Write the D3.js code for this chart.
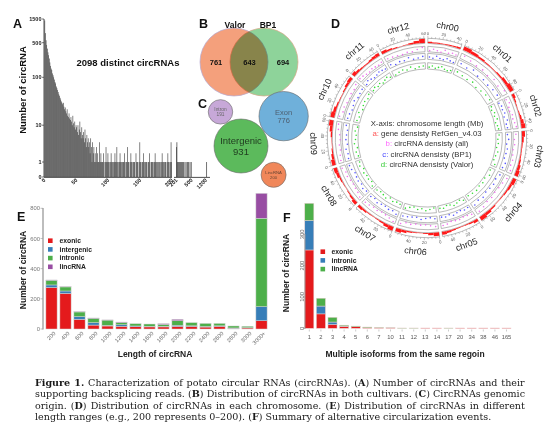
<!DOCTYPE html>
<html>
<head>
<meta charset="utf-8">
<script src="https://cdn.jsdelivr.net/npm/d3@7"></script>
<style>
  body { margin: 0; background: #fff; }
  svg { display: block; font-family: "Liberation Sans", Arial, sans-serif; }
</style>
</head>
<body>
<svg id="fig" width="554" height="440"></svg>
<script>
// ---------- data ----------
// A: number of circRNAs per count of supporting backsplicing reads (1..200)
const readCounts = [
  1400, 780, 560, 450, 380, 320, 280, 240, 200, 170, 150, 140, 120, 110, 100, 90, 80, 75, 65, 60,
  55, 50, 45, 42, 38, 35, 32, 30, 28, 30,
  25, 22, 24, 20, 18, 22, 16, 15, 18, 14,
  13, 15, 12, 10, 16, 11, 9, 12, 8, 10,
  9, 7, 10, 6, 8, 12, 7, 5, 9, 6,
  5, 7, 4, 8, 5, 3, 6, 4, 5, 3,
  4, 2, 5, 3, 1, 4, 2, 3, 1, 2,
  1, 3, 1, 2, 1, 1, 4, 1, 2, 1,
  1, 1, 2, 1, 0, 1, 3, 1, 1, 2,
  1, 1, 0, 1, 2, 1, 1, 0, 1, 1,
  2, 1, 1, 3, 1, 0, 1, 1, 2, 1,
  1, 0, 1, 1, 1, 2, 1, 0, 1, 1,
  3, 1, 1, 0, 1, 2, 1, 1, 0, 1,
  1, 1, 0, 2, 1, 1, 1, 0, 1, 4,
  1, 1, 0, 1, 1, 2, 1, 0, 1, 1,
  1, 0, 1, 1, 2, 1, 0, 1, 1, 1,
  0, 1, 1, 2, 1, 1, 0, 1, 1, 0,
  1, 1, 0, 1, 2, 1, 1, 0, 1, 1,
  1, 0, 1, 2, 1, 1, 0, 1, 4, 1
];
const highReads  = [203, 206, 215, 228, 240, 255, 270, 290, 310, 335, 360, 390, 420, 455, 490, 1250];
const highCounts = [3, 4, 1, 1, 1, 1, 1, 1, 1, 1, 1, 1, 1, 1, 1, 1];
const readTicksY = [0, 1, 10, 100, 500, 1500];
const readTicksX = [0, 50, 100, 150, 200];
const readTicksHigh = [201, 500, 1200];

// B: Venn
const vennSets = ['Valor', 'BP1'];
const vennCounts = [761, 643, 694];

// C: genomic origin
const originLabels = ['Intron', 'Exon', 'Intergenic', 'LincRNA'];
const originCounts = [191, 776, 931, 200];

// D: circos
const chrNames = ['chr00','chr01','chr02','chr03','chr04','chr05','chr06','chr07','chr08','chr09','chr10','chr11','chr12'];
const chrLengths = [45.8, 88.7, 48.6, 62.3, 72.2, 52.1, 59.5, 56.8, 56.6, 61.5, 59.8, 45.5, 61.2];
const geneDensity = [
  [0.3,0.2,0.2,0.15,0.2,0.2,0.25,0.35],
  [0.9,0.6,0.4,0.2,0.15,0.3,0.6,0.9],
  [0.6,0.3,0.15,0.1,0.2,0.4,0.7,0.9],
  [0.7,0.4,0.2,0.15,0.2,0.35,0.6,0.8],
  [0.8,0.5,0.3,0.15,0.1,0.3,0.6,0.9],
  [0.6,0.3,0.2,0.1,0.15,0.3,0.5,0.7],
  [0.8,0.5,0.2,0.1,0.15,0.25,0.55,0.8],
  [0.9,0.6,0.3,0.15,0.1,0.2,0.4,0.6],
  [0.7,0.4,0.2,0.1,0.15,0.3,0.6,0.8],
  [0.8,0.5,0.25,0.1,0.1,0.3,0.6,0.9],
  [0.9,0.6,0.3,0.15,0.1,0.25,0.5,0.7],
  [0.8,0.5,0.3,0.2,0.2,0.4,0.6,0.7],
  [0.6,0.35,0.2,0.1,0.15,0.3,0.6,0.95]
];
const circAll = [
  [0.2,0.5,0.3,0.1,0.6,0.2,0.4,0.3],
  [0.7,0.4,0.2,0.3,0.1,0.5,0.3,0.8],
  [0.3,0.6,0.2,0.1,0.4,0.3,0.5,0.7],
  [0.5,0.2,0.3,0.1,0.2,0.4,0.3,0.6],
  [0.6,0.3,0.2,0.1,0.3,0.2,0.5,0.7],
  [0.4,0.2,0.1,0.3,0.2,0.1,0.4,0.5],
  [0.5,0.3,0.1,0.2,0.1,0.3,0.2,0.6],
  [0.7,0.4,0.2,0.1,0.3,0.2,0.4,0.5],
  [0.6,0.3,0.2,0.1,0.2,0.4,0.3,0.7],
  [0.5,0.4,0.2,0.3,0.1,0.2,0.5,0.6],
  [0.7,0.3,0.4,0.2,0.1,0.3,0.2,0.5],
  [0.6,0.5,0.3,0.2,0.4,0.3,0.2,0.4],
  [0.4,0.3,0.2,0.1,0.3,0.2,0.5,0.8]
];
const circBP1 = [
  [0.4,0.2,0.6,0.3,0.2,0.5,0.3,0.2],
  [0.5,0.3,0.6,0.2,0.4,0.3,0.5,0.6],
  [0.2,0.4,0.3,0.5,0.2,0.6,0.3,0.4],
  [0.3,0.5,0.2,0.4,0.3,0.2,0.6,0.4],
  [0.5,0.2,0.4,0.3,0.2,0.5,0.3,0.6],
  [0.3,0.4,0.2,0.3,0.5,0.2,0.4,0.3],
  [0.4,0.2,0.3,0.5,0.2,0.3,0.4,0.5],
  [0.6,0.3,0.4,0.2,0.3,0.5,0.2,0.4],
  [0.3,0.5,0.2,0.4,0.3,0.2,0.5,0.6],
  [0.4,0.3,0.5,0.2,0.4,0.3,0.2,0.5],
  [0.5,0.4,0.2,0.3,0.5,0.2,0.3,0.4],
  [0.3,0.6,0.4,0.2,0.3,0.5,0.4,0.3],
  [0.5,0.2,0.4,0.3,0.6,0.2,0.3,0.5]
];
const circValor = [
  [0.3,0.5,0.2,0.4,0.6,0.3,0.2,0.4],
  [0.6,0.4,0.3,0.5,0.2,0.4,0.6,0.7],
  [0.4,0.2,0.5,0.3,0.6,0.2,0.4,0.5],
  [0.5,0.3,0.4,0.2,0.5,0.3,0.2,0.6],
  [0.3,0.6,0.2,0.4,0.3,0.5,0.4,0.3],
  [0.5,0.2,0.4,0.6,0.3,0.2,0.5,0.4],
  [0.2,0.4,0.6,0.3,0.5,0.2,0.4,0.7],
  [0.4,0.3,0.5,0.2,0.6,0.4,0.3,0.5],
  [0.6,0.2,0.4,0.3,0.5,0.2,0.6,0.4],
  [0.3,0.5,0.2,0.6,0.4,0.3,0.5,0.2],
  [0.5,0.3,0.6,0.2,0.4,0.5,0.3,0.6],
  [0.4,0.6,0.3,0.5,0.2,0.4,0.6,0.3],
  [0.2,0.4,0.5,0.3,0.6,0.2,0.4,0.5]
];

// E: length ranges
const lenCats = ['200','400','600','800','1000','1200','1400','1600','1800','2000','2200','2400','2600','2800','3000','3000+'];
const lenExonic     = [275, 236, 64, 26, 20, 18, 15, 14, 14, 17, 17, 13, 18, 5, 7, 55];
const lenIntergenic = [17, 16, 18, 16, 4, 10, 5, 4, 4, 8, 4, 4, 3, 2, 2, 93];
const lenIntronic   = [31, 27, 31, 29, 35, 15, 15, 15, 12, 30, 21, 20, 16, 13, 9, 586];
const lenLinc       = [2, 2, 2, 2, 1, 3, 0, 0, 5, 9, 0, 0, 0, 0, 0, 165];
const lenTicks = [0, 200, 400, 600, 800];

// F: isoforms from the same region
const isoCats = ['1','2','3','4','5','6','7','10','11','12','13','14','17','20','34','38','46','165'];
const isoExonic   = [250, 46, 12, 6, 5, 2, 1, 1, 0, 0, 1, 1, 0, 1, 1, 1, 1, 1];
const isoIntronic = [94, 25, 8, 1, 0, 0, 0, 0, 0, 0, 0, 0, 0, 0, 0, 0, 0, 0];
const isoLinc     = [55, 25, 15, 3, 2, 2, 2, 1, 1, 1, 0, 0, 1, 0, 0, 0, 0, 0];
const isoTicks = [0, 100, 200, 300];

const lenColor = { exonic: '#e41a1c', intergenic: '#377eb8', intronic: '#4daf4a', lincRNA: '#984ea3' };
const isoColor = { exonic: '#e41a1c', intronic: '#377eb8', lincRNA: '#4daf4a' };

// ---------- drawing ----------
const svg = d3.select('#fig');
svg.append('rect').attr('width', 554).attr('height', 440).attr('fill', '#fff');

function panelLabel(x, y, t) {
  svg.append('text').attr('x', x).attr('y', y)
    .attr('font-size', 12.5).attr('font-weight', 'bold').attr('fill', '#111').text(t);
}

// ===== A =====
(function () {
  const g = svg.append('g');
  const y = d3.scaleSymlog().constant(1).domain([0, 1500]).range([177, 19]);
  const x = d3.scaleBand().domain(readCounts.map((d, i) => i + 1)).range([44.5, 172]).paddingInner(0.04);
  const xt = d3.scaleLinear().domain([0, 200]).range([44.5, 172]);
  const x2 = d3.scaleLog().domain([201, 1200]).range([176.5, 206]);

  g.selectAll('rect.lo').data(readCounts).join('rect').attr('class', 'lo')
    .attr('x', (d, i) => x(i + 1)).attr('width', x.bandwidth())
    .attr('y', d => y(d)).attr('height', d => y(0) - y(d)).attr('fill', '#383838');
  g.selectAll('rect.hi').data(highCounts).join('rect').attr('class', 'hi')
    .attr('x', (d, i) => x2(highReads[i]) - 0.35).attr('width', 0.7)
    .attr('y', d => y(d)).attr('height', d => y(0) - y(d)).attr('fill', '#383838');

  g.append('line').attr('x1', 44).attr('x2', 44).attr('y1', 19).attr('y2', 177).attr('stroke', '#222').attr('stroke-width', 0.8);
  g.append('line').attr('x1', 44).attr('x2', 172).attr('y1', 177.4).attr('y2', 177.4).attr('stroke', '#222').attr('stroke-width', 0.8);
  g.append('line').attr('x1', 174).attr('x2', 210).attr('y1', 177.4).attr('y2', 177.4).attr('stroke', '#222').attr('stroke-width', 0.8);
  readTicksY.forEach(t => {
    g.append('line').attr('x1', 42).attr('x2', 44).attr('y1', y(t)).attr('y2', y(t)).attr('stroke', '#222').attr('stroke-width', 0.6);
    g.append('text').attr('x', 41.5).attr('y', y(t)).attr('dy', '0.35em').attr('text-anchor', 'end')
      .attr('font-size', 5.5).attr('font-weight', 'bold').attr('fill', '#222').text(t);
  });
  const xLab = (px, t) => g.append('text').attr('transform', `translate(${px + 1.5},180.5) rotate(-45)`)
    .attr('text-anchor', 'end').attr('font-size', 5.5).attr('font-weight', 'bold').attr('fill', '#222').text(t);
  readTicksX.forEach(t => xLab(xt(t), t));
  readTicksHigh.forEach(t => xLab(x2(t), t));

  g.append('text').attr('transform', 'translate(25.5,90) rotate(-90)').attr('text-anchor', 'middle')
    .attr('font-size', 9.5).attr('font-weight', 'bold').attr('fill', '#111').text('Number of circRNA');
  g.append('text').attr('x', 76.5).attr('y', 66).attr('font-size', 9.5).attr('font-weight', 'bold')
    .attr('fill', '#111').text('2098 distinct circRNAs');
  panelLabel(13, 28, 'A');
})();

// ===== B =====
(function () {
  const g = svg.append('g');
  const r = 34, cy = 62, cxs = [234, 264];
  g.append('circle').attr('cx', cxs[0]).attr('cy', cy).attr('r', r)
    .attr('fill', '#f4a07c').attr('stroke', '#b4a8d0').attr('stroke-width', 0.7);
  g.append('circle').attr('cx', cxs[1]).attr('cy', cy).attr('r', r)
    .attr('fill', '#8ed39a').style('mix-blend-mode', 'multiply')
    .attr('stroke', '#d8a888').attr('stroke-width', 0.7);
  const xs = [216, 249.5, 283];
  vennCounts.forEach((v, i) => g.append('text').attr('x', xs[i]).attr('y', cy + 2.5).attr('text-anchor', 'middle')
    .attr('font-size', 7.5).attr('font-weight', 'bold').attr('fill', '#111').text(v));
  g.append('text').attr('x', 235).attr('y', 28).attr('text-anchor', 'middle').attr('font-size', 8.5)
    .attr('font-weight', 'bold').attr('fill', '#111').text(vennSets[0]);
  g.append('text').attr('x', 268).attr('y', 28).attr('text-anchor', 'middle').attr('font-size', 8.5)
    .attr('font-weight', 'bold').attr('fill', '#111').text(vennSets[1]);
  panelLabel(199, 28, 'B');
})();

// ===== C =====
(function () {
  const g = svg.append('g');
  const rs = d3.scaleSqrt().domain([0, d3.max(originCounts)]).range([0, 27]);
  const fills = ['#c7a8d8', '#6fb0da', '#5cba5c', '#f0875a'];
  const textCol = ['#666', '#4d5f70', '#1f3a1f', '#664433'];
  const fsz = [4.8, 7.5, 9.5, 4.2];
  const main = { x: 241, y: 146 };
  const R0 = rs(originCounts[2]);
  // satellites placed around the main bubble: direction (deg) and gap
  const place = { 0: [-121, 0.6], 1: [-35, 0.4], 3: [41.5, 4] };
  const pos = originCounts.map((v, i) => {
    if (i === 2) return main;
    const a = place[i][0] * Math.PI / 180, d = R0 + rs(v) + place[i][1];
    return { x: main.x + d * Math.cos(a), y: main.y + d * Math.sin(a) };
  });
  originCounts.forEach((v, i) => {
    g.append('circle').attr('cx', pos[i].x).attr('cy', pos[i].y).attr('r', rs(v))
      .attr('fill', fills[i]).attr('stroke', '#666').attr('stroke-width', 0.6);
    const t = g.append('text').attr('x', pos[i].x).attr('y', pos[i].y).attr('text-anchor', 'middle')
      .attr('font-size', fsz[i]).attr('fill', textCol[i]);
    t.append('tspan').attr('x', pos[i].x).attr('dy', '-0.2em').text(originLabels[i]);
    t.append('tspan').attr('x', pos[i].x).attr('dy', '1.15em').text(v);
  });
  panelLabel(198, 108, 'C');
})();

// ===== D =====
(function () {
  const g = svg.append('g');
  const cx = 427, cy = 138;
  const gapDeg = 1.8, startDeg = 0.5;
  const degPerMb = (360 - gapDeg * chrLengths.length) / d3.sum(chrLengths);
  const rad = d => d * Math.PI / 180;
  let acc = startDeg;
  const chrs = chrNames.map((name, i) => {
    const s = acc, e = s + chrLengths[i] * degPerMb;
    acc = e + gapDeg;
    return { name, i, len: chrLengths[i], s, e, ang: d3.scaleLinear().domain([0, chrLengths[i]]).range([s, e]) };
  });
  const tracks = [
    { r0: 94.7, r1: 99.7 },
    { r0: 86.3, r1: 91.7, data: circAll, color: '#f070f0' },
    { r0: 78.7, r1: 84.7, data: circBP1, color: '#5555ff' },
    { r0: 69, r1: 75.3, data: circValor, color: '#33dd33' }
  ];
  const arc = d3.arc();
  const pt = (r, a) => [cx + r * Math.sin(rad(a)), cy - r * Math.cos(rad(a))];
  const rot = a => (a > 105 && a < 275) ? a - 180 : a;

  chrs.forEach(c => {
    tracks.forEach(t => {
      g.append('path').attr('transform', `translate(${cx},${cy})`)
        .attr('d', arc({ innerRadius: t.r0, outerRadius: t.r1, startAngle: rad(c.s), endAngle: rad(c.e) }))
        .attr('fill', '#fff').attr('stroke', '#8c8c8c').attr('stroke-width', 0.6);
    });
    const nb = geneDensity[c.i].length;
    geneDensity[c.i].forEach((v, j) => {
      const t = tracks[0];
      g.append('path').attr('transform', `translate(${cx},${cy})`)
        .attr('d', arc({ innerRadius: t.r0 + 0.3, outerRadius: t.r0 + 0.3 + v * (t.r1 - t.r0 - 0.6),
          startAngle: rad(c.ang(j * c.len / nb)), endAngle: rad(c.ang((j + 1) * c.len / nb)) }))
        .attr('fill', '#ff1a1a');
    });
    tracks.slice(1).forEach(t => {
      const vals = t.data[c.i];
      vals.forEach((v, j) => {
        const p = pt(t.r0 + v * (t.r1 - t.r0), c.ang((j + 0.5) * c.len / vals.length));
        g.append('circle').attr('cx', p[0]).attr('cy', p[1]).attr('r', 0.8).attr('fill', t.color);
      });
    });
    for (let m = 0; m <= c.len; m += 5) {
      const major = m % 20 === 0;
      const a = c.ang(m);
      const p1 = pt(99.7, a), p2 = pt(major ? 102.3 : 101.2, a);
      g.append('line').attr('x1', p1[0]).attr('y1', p1[1]).attr('x2', p2[0]).attr('y2', p2[1])
        .attr('stroke', '#777').attr('stroke-width', 0.4);
      if (major) {
        const pl = pt(104.6, a);
        g.append('text').attr('transform', `translate(${pl[0]},${pl[1]}) rotate(${rot(a)})`)
          .attr('text-anchor', 'middle').attr('dy', '0.35em').attr('font-size', 4.3).attr('fill', '#555').text(m);
      }
    }
    const mid = (c.s + c.e) / 2, pn = pt(113.5, mid);
    g.append('text').attr('transform', `translate(${pn[0]},${pn[1]}) rotate(${rot(mid)})`)
      .attr('text-anchor', 'middle').attr('dy', '0.35em').attr('font-size', 9).attr('fill', '#222').text(c.name);
  });

  const leg = [
    [['', '#333'], ['X-axis: chromosome length (Mb)', '#333']],
    [['a: ', '#ff5555'], ['gene densisty RefGen_v4.03', '#333']],
    [['b: ', '#ff66ff'], ['circRNA densisty (all)', '#333']],
    [['c: ', '#4444ff'], ['circRNA densisty (BP1)', '#333']],
    [['d: ', '#33cc33'], ['circRNA densisty (Valor)', '#333']]
  ];
  const ly = [126, 136.2, 146.4, 156.8, 167];
  leg.forEach((row, i) => {
    const t = g.append('text').attr('x', cx).attr('y', ly[i]).attr('text-anchor', 'middle').attr('font-size', 7.8);
    row.forEach(s => t.append('tspan').attr('fill', s[1]).text(s[0]));
  });
  panelLabel(331, 28, 'D');
})();

// stacked bar helper for E and F
function stackedBars(g, rows, keys, colors, x, y, stroke) {
  d3.stack().keys(keys)(rows).forEach(s => {
    g.selectAll(null).data(s).join('rect')
      .attr('x', d => x(d.data.cat)).attr('width', x.bandwidth())
      .attr('y', d => y(d[1])).attr('height', d => Math.max(0, y(d[0]) - y(d[1])))
      .attr('fill', colors[s.key]).attr('stroke', stroke).attr('stroke-width', 0.5);
  });
}

// ===== E =====
(function () {
  const g = svg.append('g');
  const keys = ['exonic', 'intergenic', 'intronic', 'lincRNA'];
  const rows = lenCats.map((c, i) => ({ cat: c, exonic: lenExonic[i], intergenic: lenIntergenic[i], intronic: lenIntronic[i], lincRNA: lenLinc[i] }));
  const x = d3.scaleBand().domain(lenCats).range([44.5, 268.5]).paddingInner(0.2).paddingOuter(0.1);
  const y = d3.scaleLinear().domain([0, 800]).range([329, 208.3]);
  stackedBars(g, rows, keys, lenColor, x, y, '#d4d4d4');

  g.append('line').attr('x1', 43).attr('x2', 43).attr('y1', 208).attr('y2', 329.5).attr('stroke', '#9a9a9a').attr('stroke-width', 1.3);
  lenTicks.forEach(t => {
    g.append('line').attr('x1', 40.5).attr('x2', 43).attr('y1', y(t)).attr('y2', y(t)).attr('stroke', '#999').attr('stroke-width', 0.6);
    g.append('text').attr('x', 40).attr('y', y(t)).attr('dy', '0.35em').attr('text-anchor', 'end')
      .attr('font-size', 5.8).attr('fill', '#777').text(t);
  });
  lenCats.forEach(c => {
    g.append('text').attr('transform', `translate(${x(c) + x.bandwidth() / 2 + 3},332.5) rotate(-45)`)
      .attr('text-anchor', 'end').attr('dy', '0.35em').attr('font-size', 5.6).attr('fill', '#666').text(c);
  });
  keys.forEach((k, i) => {
    const yy = 240.7 + i * 8.7;
    g.append('rect').attr('x', 48).attr('y', yy - 2.3).attr('width', 4.6).attr('height', 4.6).attr('fill', lenColor[k]);
    g.append('text').attr('x', 59.5).attr('y', yy).attr('dy', '0.35em').attr('font-size', 6.8)
      .attr('font-weight', 'bold').attr('fill', '#222').text(k);
  });
  g.append('text').attr('x', 155).attr('y', 357).attr('text-anchor', 'middle').attr('font-size', 8.5)
    .attr('font-weight', 'bold').attr('fill', '#222').text('Length of circRNA');
  g.append('text').attr('transform', 'translate(26,270) rotate(-90)').attr('text-anchor', 'middle')
    .attr('font-size', 8.5).attr('font-weight', 'bold').attr('fill', '#222').text('Number of circRNA');
  panelLabel(17, 221, 'E');
})();

// ===== F =====
(function () {
  const g = svg.append('g');
  const keys = ['exonic', 'intronic', 'lincRNA'];
  const rows = isoCats.map((c, i) => ({ cat: c, exonic: isoExonic[i], intronic: isoIntronic[i], lincRNA: isoLinc[i] }));
  const x = d3.scaleBand().domain(isoCats).range([303.5, 512.3]).paddingInner(0.22).paddingOuter(0.11);
  const y = d3.scaleLinear().domain([0, 300]).range([328.3, 234.3]);
  stackedBars(g, rows, keys, isoColor, x, y, '#ead0d0');

  g.append('line').attr('x1', 305).attr('x2', 305).attr('y1', 234).attr('y2', 329).attr('stroke', '#999').attr('stroke-width', 0.9);
  isoTicks.forEach(t => {
    g.append('line').attr('x1', 303).attr('x2', 305).attr('y1', y(t)).attr('y2', y(t)).attr('stroke', '#999').attr('stroke-width', 0.6);
    g.append('text').attr('transform', `translate(303.8,${y(t)}) rotate(-90)`).attr('text-anchor', 'middle')
      .attr('font-size', 5.8).attr('fill', '#666').text(t);
  });
  isoCats.forEach(c => {
    const cxp = x(c) + x.bandwidth() / 2;
    g.append('line').attr('x1', cxp).attr('x2', cxp).attr('y1', 329.5).attr('y2', 331.5).attr('stroke', '#999').attr('stroke-width', 0.5);
    g.append('text').attr('x', cxp).attr('y', 338.5).attr('text-anchor', 'middle')
      .attr('font-size', 5.8).attr('fill', '#555').text(c);
  });
  keys.forEach((k, i) => {
    const yy = 251.7 + i * 8.7;
    g.append('rect').attr('x', 320.5).attr('y', yy - 2.3).attr('width', 4.6).attr('height', 4.6).attr('fill', isoColor[k]);
    g.append('text').attr('x', 331.5).attr('y', yy).attr('dy', '0.35em').attr('font-size', 6.8)
      .attr('font-weight', 'bold').attr('fill', '#222').text(k);
  });
  g.append('text').attr('x', 405).attr('y', 357).attr('text-anchor', 'middle').attr('font-size', 8.5)
    .attr('font-weight', 'bold').attr('fill', '#222').text('Multiple isoforms from the same regoin');
  g.append('text').attr('transform', 'translate(289,273) rotate(-90)').attr('text-anchor', 'middle')
    .attr('font-size', 8.5).attr('font-weight', 'bold').attr('fill', '#222').text('Number of circRNA');
  panelLabel(283, 222, 'F');
})();

// ===== caption =====
(function () {
  const lines = [
    [['Figure 1.', 1], [' Characterization of potato circular RNAs (circRNAs). (', 0], ['A', 1], [') Number of circRNAs and their', 0]],
    [['supporting backsplicing reads. (', 0], ['B', 1], [') Distribution of circRNAs in both cultivars. (', 0], ['C', 1], [') CircRNAs genomic', 0]],
    [['origin. (', 0], ['D', 1], [') Distribution of circRNAs in each chromosome. (', 0], ['E', 1], [') Distribution of circRNAs in different', 0]],
    [['length ranges (e.g., 200 represents 0\u2013200). (', 0], ['F', 1], [') Summary of alternative circularization events.', 0]]
  ];
  const x0 = 35, fullWidth = 490, baseSize = 10;
  const texts = lines.map((ln, i) => {
    const t = svg.append('text').attr('x', x0).attr('y', 386 + i * 11.3)
      .attr('font-family', '"DejaVu Serif", "Liberation Serif", serif').attr('font-size', baseSize).attr('fill', '#1a1a1a');
    ln.forEach(s => t.append('tspan').attr('font-weight', s[1] ? 'bold' : 'normal').text(s[0]));
    return t;
  });
  // font sized from the first line, then justify all but the last line
  const fs = baseSize * (fullWidth - 10) / texts[0].node().getBBox().width;
  texts.forEach((t, i) => {
    t.attr('font-size', fs);
    if (i < 3) {
      const w = t.node().getBBox().width;
      const spaces = lines[i].map(s => s[0]).join('').split(' ').length - 1;
      t.attr('word-spacing', Math.max(0, (fullWidth - w) / spaces));
    }
  });
})();
</script>
</body>
</html>
